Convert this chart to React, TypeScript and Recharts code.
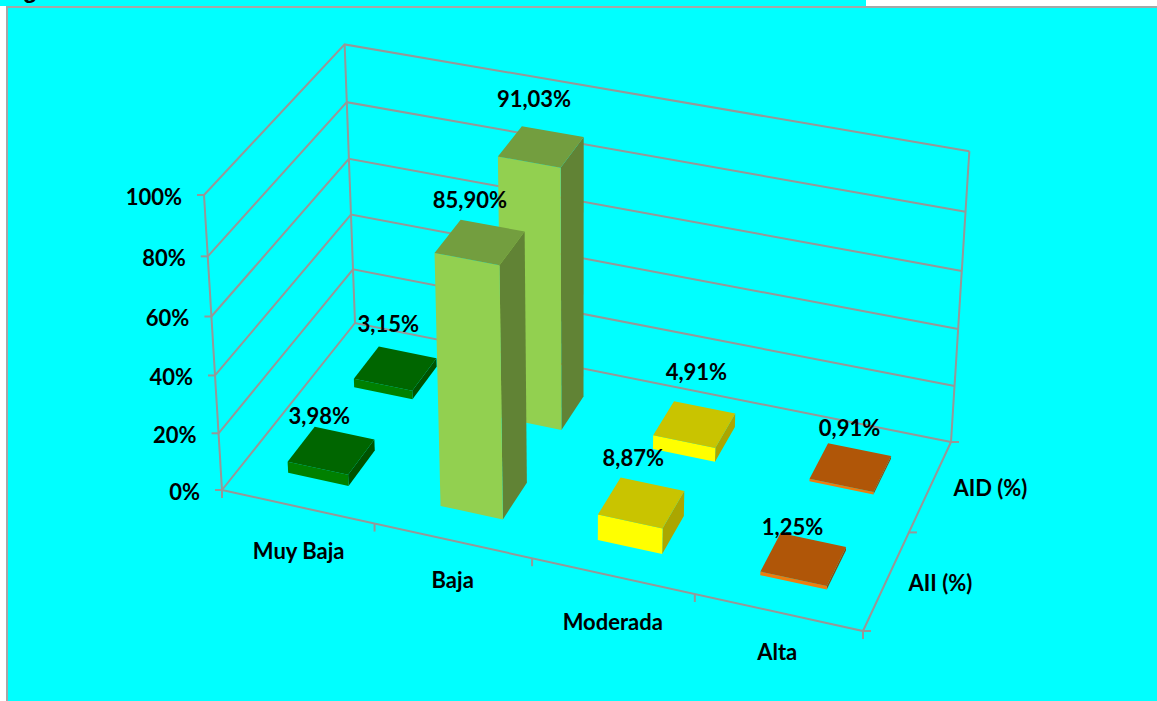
import React from 'react';
import { ScatterChart, Scatter, XAxis, YAxis } from 'recharts';

const WIDTH = 1157;
const HEIGHT = 701;

const categories = ['Muy Baja', 'Baja', 'Moderada', 'Alta'];
const seriesNames = ['AII (%)', 'AID (%)'];
const aiiValues = [3.98, 85.9, 8.87, 1.25];
const aidValues = [3.15, 91.03, 4.91, 0.91];
const valueTicks = [0, 20, 40, 60, 80, 100];

const faceColors = [
  { front: '#008000', top: '#006600', side: '#005200' },
  { front: '#92D050', top: '#739E3F', side: '#618335' },
  { front: '#FFFF00', top: '#C9C400', side: '#ABA600' },
  { front: '#ED7D0F', top: '#B05608', side: '#8C4506' },
];

// nudges from the top centre of a bar to its value label, by series then category
const labelNudge = [
  [[-12, -35], [-10, -43], [-8, -45], [-11, -33]],
  [[-7, -45], [-7, -48], [2, -53], [-1, -40]],
];

// corners of the 3D box on the page: floor front-left, front-right, back-right, back-left, top of the first
const A = [222, 490];
const B = [863, 631];
const C = [951, 442];
const D = [355, 323];
const E = [204, 195];
const VERTICAL_W = -0.048;

const det = (p: number[], q: number[]) => p[0] * q[1] - p[1] * q[0];
const sx = A[0] - B[0] + C[0] - D[0];
const sy = A[1] - B[1] + C[1] - D[1];
const d1 = [B[0] - C[0], B[1] - C[1]];
const d2 = [D[0] - C[0], D[1] - C[1]];
const G = det([sx, sy], d2) / det(d1, d2);
const H = det(d1, [sx, sy]) / det(d1, d2);

// u: along categories 0..1, w: along series 0..1, v: value 0..1
function project(u: number, w: number, v: number) {
  const den = 1 + G * u + H * w + VERTICAL_W * v;
  const at = (k: number) =>
    (A[k] +
      (B[k] * (1 + G) - A[k]) * u +
      (D[k] * (1 + H) - A[k]) * w +
      (E[k] * (1 + VERTICAL_W) - A[k]) * v) /
    den;
  return { x: at(0), y: at(1) };
}

const fmt = (n: number) => n.toFixed(2).replace('.', ',') + '%';

const BAR_LO = 0.3;
const BAR_HI = 0.7;

function barRows(values: number[], row: number) {
  return values.map((value, cat) => {
    const v = value / 100;
    const u0 = (cat + BAR_LO) / 4;
    const u1 = (cat + BAR_HI) / 4;
    const w0 = (row + BAR_LO) / 2;
    const w1 = (row + BAR_HI) / 2;
    return {
      ...project((cat + 0.5) / 4, (row + 0.5) / 2, v),
      colors: faceColors[cat],
      front: [project(u0, w0, 0), project(u1, w0, 0), project(u1, w0, v), project(u0, w0, v)],
      side: [project(u1, w0, 0), project(u1, w1, 0), project(u1, w1, v), project(u1, w0, v)],
      top: [project(u0, w0, v), project(u1, w0, v), project(u1, w1, v), project(u0, w1, v)],
    };
  });
}

const pts = (list: { x: number; y: number }[], dx: number, dy: number) =>
  list.map((p) => `${p.x + dx},${p.y + dy}`).join(' ');

function BoxShape(props: any) {
  const { cx, cy, payload } = props;
  const dx = cx - payload.x;
  const dy = cy - payload.y;
  return (
    <g>
      <polygon points={pts(payload.side, dx, dy)} fill={payload.colors.side} />
      <polygon points={pts(payload.front, dx, dy)} fill={payload.colors.front} />
      <polygon points={pts(payload.top, dx, dy)} fill={payload.colors.top} />
    </g>
  );
}

function TextShape(props: any) {
  const { cx, cy, payload } = props;
  return (
    <text
      x={cx}
      y={cy}
      textAnchor={payload.anchor || 'middle'}
      dominantBaseline="central"
      fontFamily="Lato, sans-serif"
      fontWeight={700}
      fontSize={22}
      fill="#000"
    >
      {payload.text}
    </text>
  );
}

const NoDot = () => <g />;

const GRID = '#979797';

const valueLabels = valueTicks.map((t) => {
  const p = project(0, 0, t / 100);
  return { x: p.x - 22, y: p.y + 1, text: `${t}%`, anchor: 'end' };
});

const barLabels = [aiiValues, aidValues].flatMap((values, row) =>
  values.map((value, cat) => {
    const p = project((cat + 0.5) / 4, (row + 0.5) / 2, value / 100);
    const [nx, ny] = labelNudge[row][cat];
    return { x: p.x + nx, y: p.y + ny, text: fmt(value) };
  }),
);

const catLabelOffsets = [[1, 44], [0, 39], [0, 46], [-1, 39]];
const categoryLabels = categories.map((text, i) => {
  const p = project((i + 0.5) / 4, 0, 0);
  return { x: p.x + catLabelOffsets[i][0], y: p.y + catLabelOffsets[i][1], text };
});

const seriesLabelOffsets = [[54, 2], [60, 1]];
const seriesLabels = seriesNames.map((text, i) => {
  const p = project(1, (i + 0.5) / 2, 0);
  return { x: p.x + seriesLabelOffsets[i][0], y: p.y + seriesLabelOffsets[i][1], text };
});

function tickSegment(from: { x: number; y: number }, dx: number, dy: number) {
  return [from, { x: from.x + dx, y: from.y + dy }];
}

const gridLines = [
  ...valueTicks.map((t) => [project(0, 0, t / 100), project(0, 1, t / 100), project(1, 1, t / 100)]),
  [project(0, 0, 0), project(1, 0, 0), project(1, 1, 0)],
  [project(0, 0, 0), project(0, 0, 1)],
  [project(0, 1, 0), project(0, 1, 1)],
  [project(1, 1, 0), project(1, 1, 1)],
  ...valueTicks.map((t) => tickSegment(project(0, 0, t / 100), -7, 0)),
  ...[0, 1, 2, 3, 4].map((i) => tickSegment(project(i / 4, 0, 0), 0, 8)),
  ...[0, 1, 2].map((i) => tickSegment(project(1, i / 2, 0), 8, 0)),
];

export default function App() {
  return (
    <div style={{ position: 'absolute', left: 0, top: 0, width: WIDTH, height: HEIGHT, background: '#fff', overflow: 'hidden' }}>
      <div
        style={{
          position: 'absolute',
          left: 0,
          top: 0,
          width: 866,
          height: 6,
          background: '#00FFFF',
          overflow: 'hidden',
        }}
      >
        <div
          style={{
            position: 'absolute',
            left: 2,
            top: -24,
            whiteSpace: 'nowrap',
            fontFamily: 'Liberation Sans, Arial, sans-serif',
            fontWeight: 700,
            fontSize: 24,
            letterSpacing: -0.3,
            color: '#000',
          }}
        >
          Figura 3. Distribución de los niveles en los indicadores AII e AID del estudio
        </div>
      </div>
      <div
        style={{
          position: 'absolute',
          left: 6,
          top: 6,
          width: WIDTH - 6,
          height: HEIGHT - 6,
          background: '#00FFFF',
          borderLeft: '2px solid #A6A6A6',
          borderTop: '2px solid #A6A6A6',
          boxSizing: 'border-box',
        }}
      />
      <div style={{ position: 'absolute', left: 0, top: 0 }}>
        <ScatterChart width={WIDTH} height={HEIGHT} margin={{ top: 0, right: 0, bottom: 0, left: 0 }}>
          <XAxis type="number" dataKey="x" domain={[0, WIDTH]} hide />
          <YAxis type="number" dataKey="y" domain={[0, HEIGHT]} reversed hide />
          {gridLines.map((line, i) => (
            <Scatter
              key={i}
              data={line}
              line={{ stroke: GRID, strokeWidth: 2 }}
              shape={NoDot}
              isAnimationActive={false}
            />
          ))}
          <Scatter data={barRows(aidValues, 1)} shape={BoxShape} isAnimationActive={false} />
          <Scatter data={barRows(aiiValues, 0)} shape={BoxShape} isAnimationActive={false} />
          <Scatter data={valueLabels} shape={TextShape} isAnimationActive={false} />
          <Scatter data={categoryLabels} shape={TextShape} isAnimationActive={false} />
          <Scatter data={seriesLabels} shape={TextShape} isAnimationActive={false} />
          <Scatter data={barLabels} shape={TextShape} isAnimationActive={false} />
        </ScatterChart>
      </div>
    </div>
  );
}
